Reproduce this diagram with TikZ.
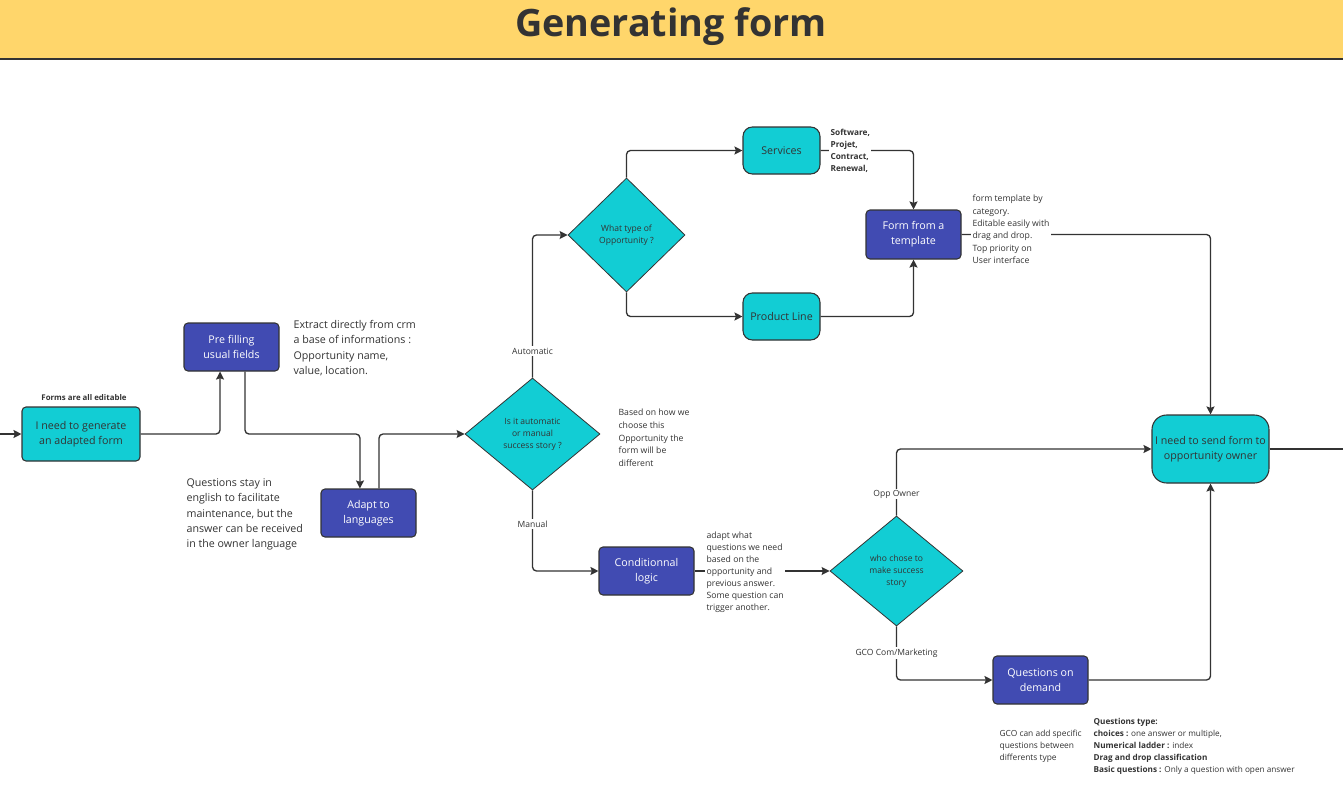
\documentclass[tikz,border=0pt]{standalone}
\usepackage{fontspec}
\setmainfont{Open Sans}
\usetikzlibrary{arrows.meta,shapes.geometric}
\definecolor{cyanbox}{RGB}{18,205,212}
\definecolor{purplebox}{RGB}{65,75,178}
\definecolor{hdr}{RGB}{255,214,107}
\definecolor{ink}{RGB}{51,51,51}
\newcommand\myfs[2]{\fontsize{#1}{#2}\selectfont}
\begin{document}
\begin{tikzpicture}[x=0.75pt,y=-0.75pt,
  conn/.style={draw=ink, line width=1pt, rounded corners=3pt},
  arr/.style={conn, -{Stealth[length=6pt,width=6pt,inset=1pt]}},
  boxbase/.style={draw=ink, line width=0.8pt, align=center, inner sep=1pt, font=\myfs{8}{11.25}},
  cbox/.style={boxbase, fill=cyanbox, text=ink},
  pbox/.style={boxbase, fill=purplebox, text=white, rounded corners=3pt, minimum width=71.25pt, minimum height=36pt},
  dia/.style={diamond, draw=ink, line width=0.6pt, fill=cyanbox, text=ink, inner sep=0pt, align=center, font=\myfs{6.4}{9}},
  note/.style={anchor=west, align=left, inner sep=1pt, fill=white, text=ink},
  lbl/.style={fill=white, inner sep=1pt, text=ink, font=\myfs{6.4}{8}},
]
\useasboundingbox (0,0) rectangle (1343,789);
\fill[white] (0,0) rectangle (1343,789);
% header
\fill[hdr] (0,0) rectangle (1343,59);
\draw[ink, line width=1.2pt] (0,59) -- (1343,59);
\node[anchor=base, text=ink, font=\bfseries\myfs{28.3}{30}] (title) at (671,36.7) {Generating form};

% boxes
\node[cbox, rounded corners=3pt, minimum width=88.5pt, minimum height=40.5pt] (gen) at (81,434) {I need to generate\\an adapted form};
\node[pbox] (pre) at (231.5,347) {Pre filling\\usual fields};
\node[pbox] (adapt) at (368.5,513) {Adapt to\\languages};
\node[dia, minimum width=101.25pt, minimum height=84pt] (d1) at (532.5,434) {Is it automatic\\or manual\\success story ?};
\node[dia, minimum width=87.75pt, minimum height=85.5pt] (d2) at (626.5,235) {What type of\\Opportunity ?};
\node[cbox, rounded corners=7pt, minimum width=57.75pt, minimum height=35.25pt] (srv) at (781.5,150.5) {Services};
\node[cbox, rounded corners=7pt, minimum width=57.75pt, minimum height=35.25pt] (prod) at (781.5,316.5) {Product Line};
\node[pbox, minimum height=36.75pt] (tpl) at (913.5,234.5) {Form from a\\template};
\node[cbox, rounded corners=11pt, minimum width=87.75pt, minimum height=51pt] (send) at (1210.5,449) {I need to send form to\\opportunity owner};
\node[pbox] (cond) at (646.5,571) {Conditionnal\\logic};
\node[dia, minimum width=99.75pt, minimum height=82.5pt] (d3) at (896.5,571) {who chose to\\make success\\story};
\node[pbox] (qod) at (1040.5,680) {Questions on\\demand};

\coordinate (leftend) at (0,434);
\coordinate (rightend) at (1343,449);

% connectors
\draw[arr] (leftend) -- (gen.west);
\draw[arr] (gen.east) -| ([xshift=-8.6pt]pre.south);
\draw[arr] ([xshift=10.1pt]pre.south) |- ([xshift=-6.4pt]adapt.north |- gen.east) -- ([xshift=-6.4pt]adapt.north);
\draw[arr] ([xshift=7.9pt]adapt.north) |- (d1.west);
\draw[arr] (d1.north) |- (d2.west);
\draw[arr] (d2.north) |- (srv.west);
\draw[arr] (d2.south) |- (prod.west);
\draw[arr] (srv.east) -| (tpl.north);
\draw[arr] (prod.east) -| (tpl.south);
\draw[arr] (tpl.east) -| (send.north);
\draw[arr] (d1.south) |- (cond.west);
\draw[arr] (cond.east) -- (d3.west);
\draw[arr] (d3.north) |- (send.west);
\draw[arr] (d3.south) |- (qod.west);
\draw[arr] (qod.east) -| (send.south);
\draw[conn] (send.east) -- (rightend);

% line labels
\node[lbl] (lauto) at (532.5,351) {Automatic};
\node[lbl] (lman) at (532.5,524) {Manual};
\node[lbl] (lopp) at (896.5,494) {Opp Owner};
\node[lbl] (lgco) at (896.5,653) {GCO Com/Marketing};

% notes
\node[anchor=center, inner sep=1pt, text=ink, font=\bfseries\myfs{5.9}{7}] (nforms) at (84,397.5) {Forms are all editable};
\node[note, font=\myfs{8}{11.5}] (nex) at (292,348) {Extract directly from crm\\a base of informations :\\Opportunity name,\\value, location.};
\node[note, font=\myfs{8}{11.5}] (nqs) at (185,514.5) {Questions stay in\\english to facilitate\\maintenance, but the\\answer can be received\\in the owner language};
\node[note, font=\myfs{6.5}{9.5}] (nbased) at (617,438) {Based on how we\\choose this\\Opportunity the\\form will be\\different};
\node[note, font=\bfseries\myfs{6.2}{9}] (nsw) at (829,151) {Software,\\Projet,\\Contract,\\Renewal,};
\node[note, font=\myfs{6.5}{9.3}] (nft) at (971,229.5) {form template by\\category.\\Editable easily with\\drag and drop.\\Top priority on\\User interface};
\node[note, font=\myfs{6.5}{9}] (nad) at (705,572.5) {adapt what\\questions we need\\based on the\\opportunity and\\previous answer.\\Some question can\\trigger another.};
\node[note, font=\myfs{6.3}{9}] (ngco) at (998,746.5) {GCO can add specific\\questions between\\differents type};
\node[note, font=\myfs{6.15}{9}] (nqt) at (1092,746.5) {\textbf{Questions type:}\\\textbf{choices :} one answer or multiple,\\\textbf{Numerical ladder :} index\\\textbf{Drag and drop classification}\\\textbf{Basic questions :} Only a question with open answer};
\end{tikzpicture}
\end{document}
